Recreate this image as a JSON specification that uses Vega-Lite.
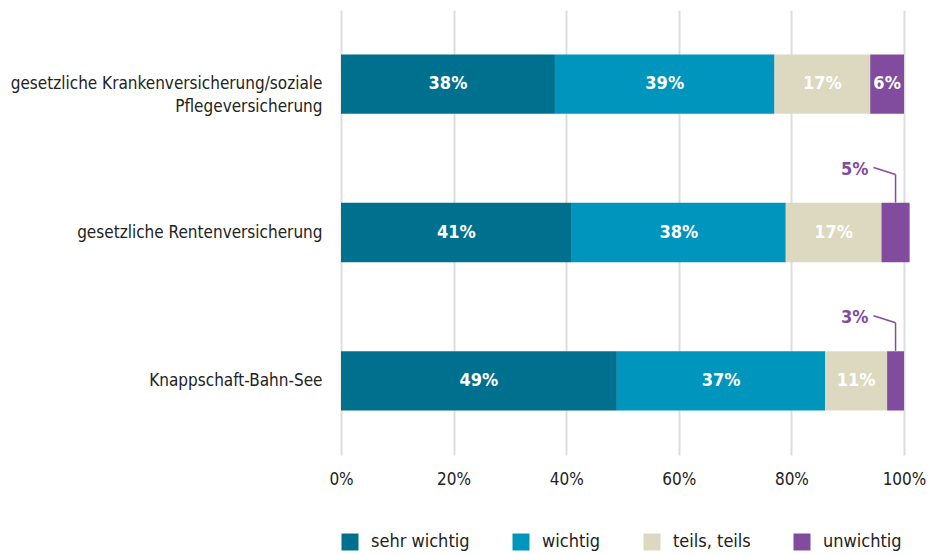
{
  "$schema": "https://vega.github.io/schema/vega-lite/v6.json",
  "width": 563,
  "height": 445,
  "autosize": "none",
  "padding": {"left": 341, "top": 10, "right": 29, "bottom": 100},
  "config": {
    "font": "Liberation Sans Narrow, DejaVu Sans Condensed, Roboto, sans-serif",
    "view": {"stroke": null}
  },
  "data": {
    "values": [
      {"row": "gesetzliche Krankenversicherung/soziale Pflegeversicherung", "cat": "sehr wichtig", "k": 1, "value": 38},
      {"row": "gesetzliche Krankenversicherung/soziale Pflegeversicherung", "cat": "wichtig", "k": 2, "value": 39},
      {"row": "gesetzliche Krankenversicherung/soziale Pflegeversicherung", "cat": "teils, teils", "k": 3, "value": 17},
      {"row": "gesetzliche Krankenversicherung/soziale Pflegeversicherung", "cat": "unwichtig", "k": 4, "value": 6},
      {"row": "gesetzliche Rentenversicherung", "cat": "sehr wichtig", "k": 1, "value": 41},
      {"row": "gesetzliche Rentenversicherung", "cat": "wichtig", "k": 2, "value": 38},
      {"row": "gesetzliche Rentenversicherung", "cat": "teils, teils", "k": 3, "value": 17},
      {"row": "gesetzliche Rentenversicherung", "cat": "unwichtig", "k": 4, "value": 5},
      {"row": "Knappschaft-Bahn-See", "cat": "sehr wichtig", "k": 1, "value": 49},
      {"row": "Knappschaft-Bahn-See", "cat": "wichtig", "k": 2, "value": 37},
      {"row": "Knappschaft-Bahn-See", "cat": "teils, teils", "k": 3, "value": 11},
      {"row": "Knappschaft-Bahn-See", "cat": "unwichtig", "k": 4, "value": 3}
    ]
  },
  "transform": [
    {"stack": "value", "groupby": ["row"], "sort": [{"field": "k"}], "as": ["x0", "x1"]},
    {"calculate": "(datum.x0 + datum.x1) / 2", "as": "mid"},
    {"calculate": "datum.value + '%'", "as": "txt"}
  ],
  "encoding": {
    "y": {
      "field": "row",
      "type": "nominal",
      "sort": null,
      "scale": {"paddingInner": 0.6, "paddingOuter": 0.3},
      "axis": {
        "title": null,
        "domain": false,
        "ticks": false,
        "labelPadding": 19,
        "labelFontSize": 17,
        "labelColor": "#222222",
        "labelLimit": 400,
        "labelLineHeight": 23,
        "labelExpr": "datum.value == 'gesetzliche Krankenversicherung/soziale Pflegeversicherung' ? ['gesetzliche Krankenversicherung/soziale', 'Pflegeversicherung'] : datum.value"
      }
    }
  },
  "layer": [
    {
      "mark": {"type": "bar"},
      "encoding": {
        "x": {
          "field": "x0",
          "type": "quantitative",
          "scale": {"domain": [0, 100]},
          "axis": {
            "title": null,
            "values": [0, 20, 40, 60, 80, 100],
            "labelExpr": "datum.value + '%'",
            "grid": true,
            "gridColor": "#dddddd",
            "gridWidth": 2,
            "domain": false,
            "ticks": false,
            "labelPadding": 16,
            "labelFontSize": 17,
            "labelColor": "#222222",
            "labelFlush": false
          }
        },
        "x2": {"field": "x1"},
        "color": {
          "field": "cat",
          "type": "nominal",
          "scale": {
            "domain": ["sehr wichtig", "wichtig", "teils, teils", "unwichtig"],
            "range": ["#00708f", "#0095bd", "#ddd8c0", "#814c9e"]
          },
          "legend": {
            "title": null,
            "orient": "bottom",
            "direction": "horizontal",
            "symbolType": "square",
            "symbolSize": 289,
            "symbolStrokeWidth": 0,
            "labelFontSize": 18,
            "labelColor": "#222222",
            "labelOffset": 12,
            "columnPadding": 42,
            "offset": 46
          }
        }
      }
    },
    {
      "transform": [{"filter": "datum.value >= 6"}],
      "mark": {"type": "text", "color": "white", "fontWeight": "bold", "fontSize": 18},
      "encoding": {
        "x": {"field": "mid", "type": "quantitative"},
        "text": {"field": "txt"}
      }
    },
    {
      "transform": [{"filter": "datum.value < 6"}],
      "mark": {"type": "text", "color": "#814c9e", "fontWeight": "bold", "fontSize": 18, "align": "right", "dx": -27, "dy": -63},
      "encoding": {
        "x": {"field": "mid", "type": "quantitative"},
        "text": {"field": "txt"}
      }
    },
    {
      "transform": [{"filter": "datum.value < 6"}],
      "mark": {"type": "rule", "color": "#814c9e", "strokeWidth": 1.5, "xOffset": -22, "yOffset": -65, "y2Offset": -58},
      "encoding": {
        "x": {"field": "mid", "type": "quantitative"},
        "x2": {"field": "mid"},
        "y2": {"field": "row"}
      }
    },
    {
      "transform": [{"filter": "datum.value < 6"}],
      "mark": {"type": "rule", "color": "#814c9e", "strokeWidth": 1.5, "yOffset": -58, "y2Offset": -30},
      "encoding": {
        "x": {"field": "mid", "type": "quantitative"},
        "y2": {"field": "row"}
      }
    }
  ]
}
